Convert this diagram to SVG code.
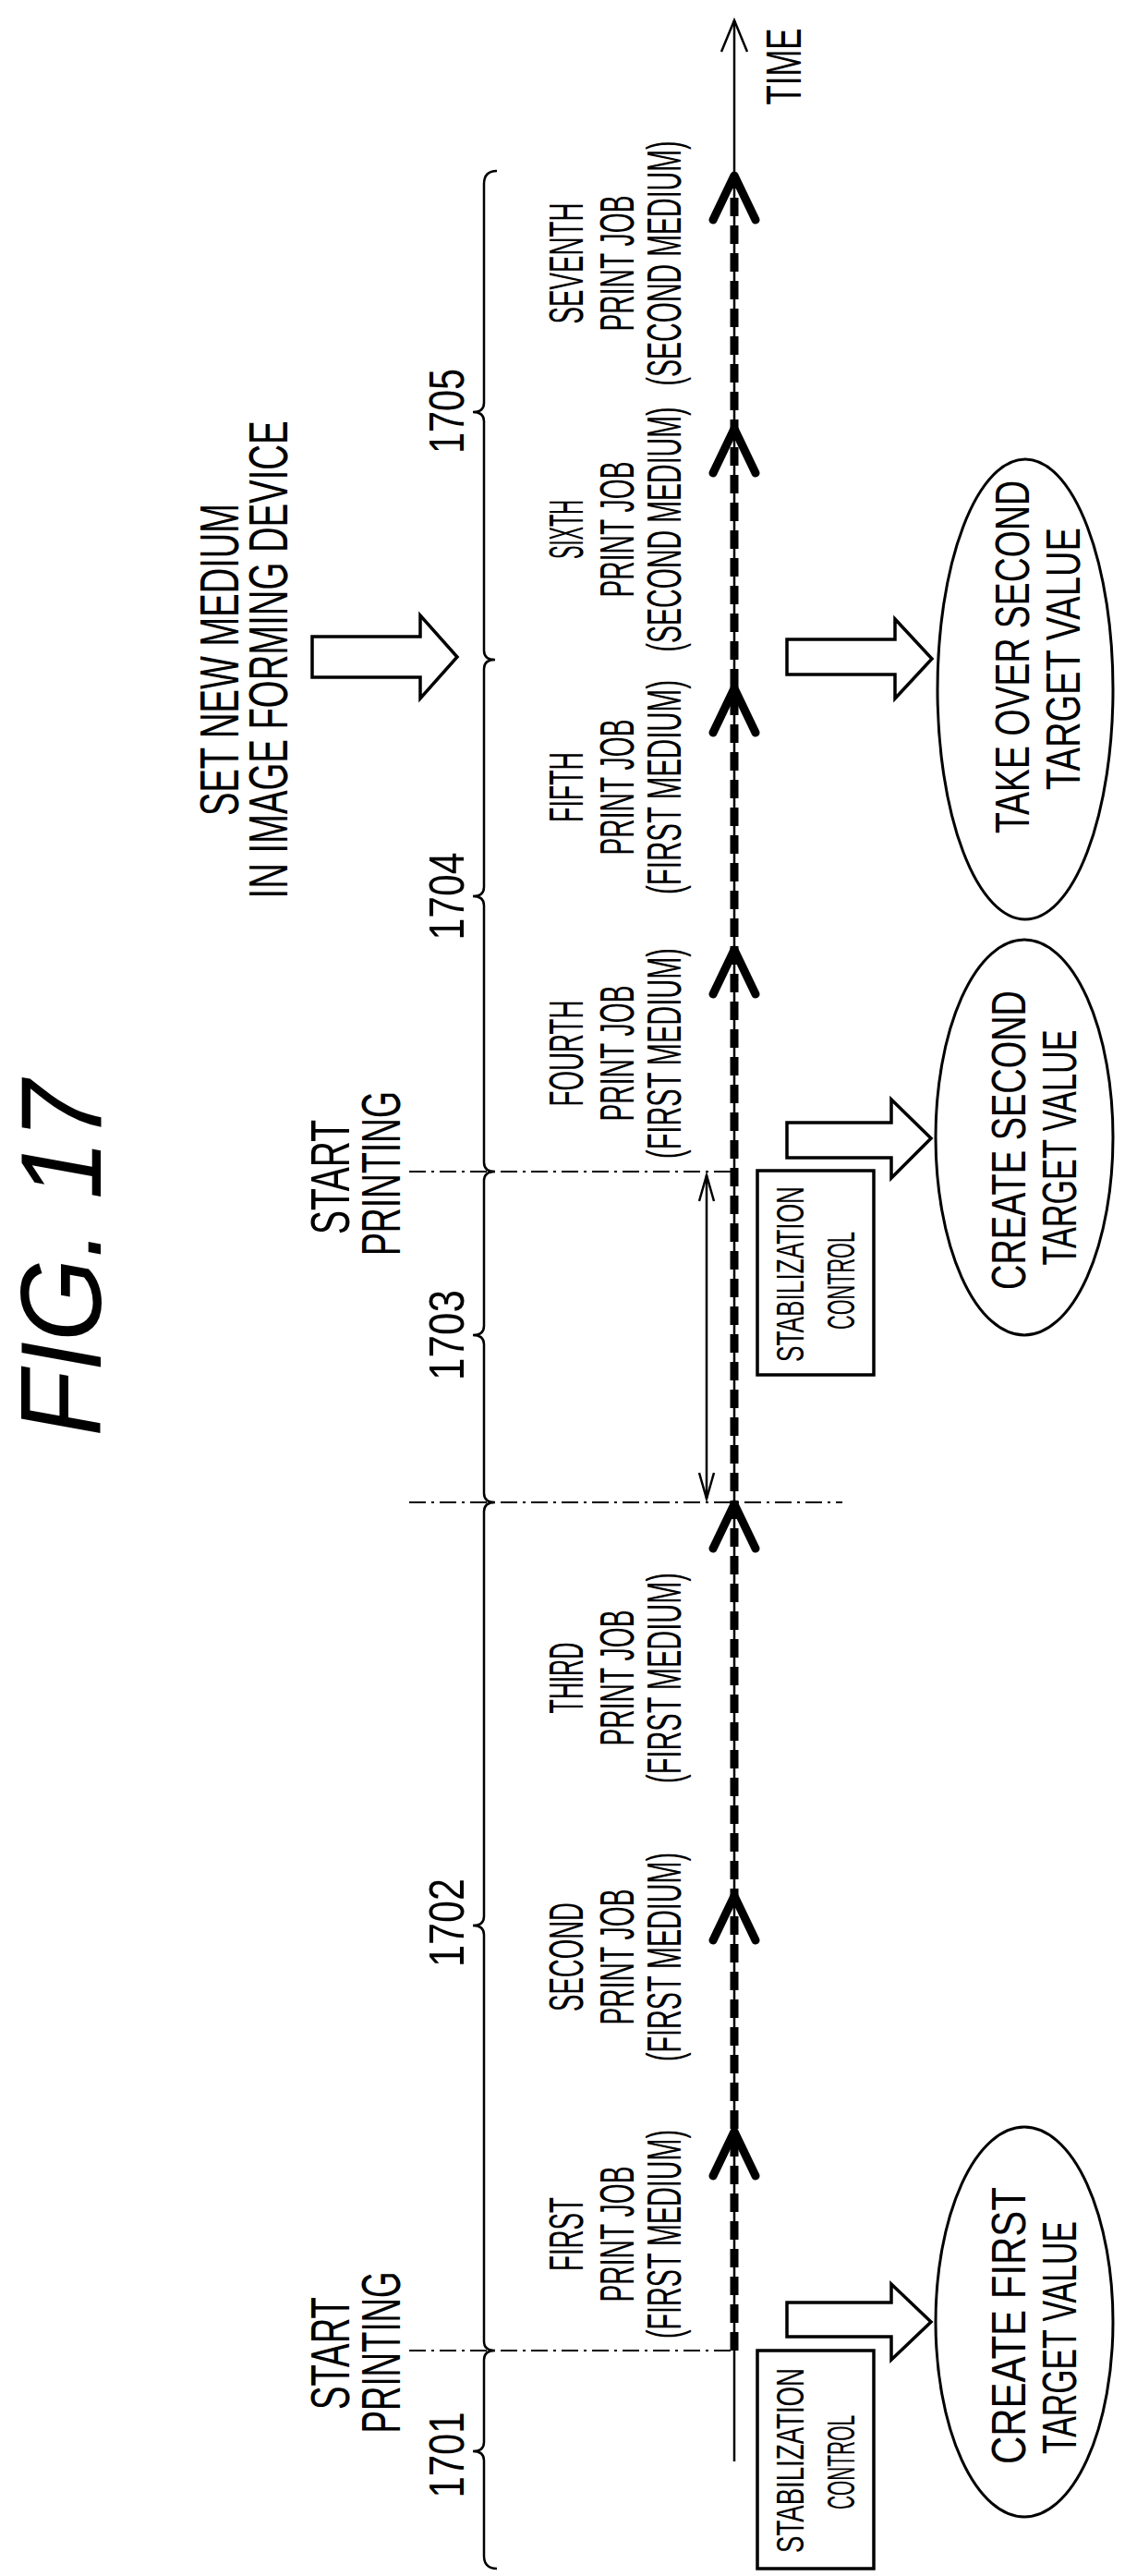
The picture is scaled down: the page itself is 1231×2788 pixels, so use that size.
<svg xmlns="http://www.w3.org/2000/svg" width="1231" height="2788" viewBox="0 0 1231 2788">
<style>
text{font-family:"Liberation Sans",Arial,sans-serif;fill:#000;text-anchor:middle}
.j{font-size:52px}.s{font-size:43px}.n{font-size:54px}.b{font-size:60px}
.thin{stroke:#000;stroke-width:2.5;fill:none}
.dd{stroke:#000;stroke-width:2;fill:none;stroke-dasharray:18 6 3 6}
.blk{fill:#fff;stroke:#000;stroke-width:3.5}
.chev{stroke:#000;stroke-width:9;fill:none;stroke-linecap:round;stroke-linejoin:round}
</style>
<rect width="1231" height="2788" fill="#fff"/>
<text transform="translate(64,1362) rotate(-90)" y="45" style="font-size:125px;font-style:italic" textLength="385" lengthAdjust="spacingAndGlyphs">FIG. 17</text>
<g id="connectors">
<line class="thin" x1="795" y1="2664" x2="795" y2="22"/>
<path class="thin" d="M781 56 L795 22 L809 56"/>
<line x1="795" y1="2544" x2="795" y2="190" stroke="#000" stroke-width="9" stroke-dasharray="20 10"/>
<path class="chev" d="M772 238 L795 190 L818 238 M772 512 L795 464 L818 512 M772 793 L795 745 L818 793 M772 1076 L795 1028 L818 1076 M772 1676 L795 1628 L818 1676 M772 2100 L795 2052 L818 2100 M772 2355 L795 2307 L818 2355"/>
<line class="dd" x1="443" y1="2544" x2="795" y2="2544"/>
<line class="dd" x1="443" y1="1626" x2="912" y2="1626"/>
<line class="dd" x1="443" y1="1268" x2="795" y2="1268"/>
<line class="thin" x1="765" y1="1272" x2="765" y2="1622"/>
<path class="thin" d="M757 1300 L765 1272 L773 1300 M757 1594 L765 1622 L773 1594"/>
<path class="thin" d="M538 185 Q524 185 524 199 L524 436 Q524 446 512 446 Q524 446 524 456 L524 704 Q524 714 536 714 Q524 714 524 724 L524 960 Q524 970 512 970 Q524 970 524 980 L524 1258 Q524 1268 536 1268 Q524 1268 524 1278 L524 1435 Q524 1445 512 1445 Q524 1445 524 1455 L524 1616 Q524 1626 536 1626 Q524 1626 524 1636 L524 2074 Q524 2084 512 2084 Q524 2084 524 2094 L524 2534 Q524 2544 536 2544 Q524 2544 524 2554 L524 2643 Q524 2653 512 2653 Q524 2653 524 2663 L524 2766 Q524 2780 538 2780"/>
</g>
<g id="time"><text class="n" transform="translate(848,72) rotate(-90)" y="19" textLength="83" lengthAdjust="spacingAndGlyphs">TIME</text></g>
<g id="labels">
<text class="n" transform="translate(483,445) rotate(-90)" y="19" textLength="92" lengthAdjust="spacingAndGlyphs">1705</text>
<text class="n" transform="translate(483,970) rotate(-90)" y="19" textLength="95" lengthAdjust="spacingAndGlyphs">1704</text>
<text class="n" transform="translate(483,1445) rotate(-90)" y="19" textLength="98" lengthAdjust="spacingAndGlyphs">1703</text>
<text class="n" transform="translate(483,2081) rotate(-90)" y="19" textLength="96" lengthAdjust="spacingAndGlyphs">1702</text>
<text class="n" transform="translate(483,2657) rotate(-90)" y="19" textLength="93" lengthAdjust="spacingAndGlyphs">1701</text>
</g>
<g id="setmedium">
<text class="b" transform="translate(237,714) rotate(-90)" y="21" textLength="338" lengthAdjust="spacingAndGlyphs">SET NEW MEDIUM</text>
<text class="b" transform="translate(290,714) rotate(-90)" y="21" textLength="517" lengthAdjust="spacingAndGlyphs">IN IMAGE FORMING DEVICE</text>
<path class="blk" d="M338 689 L455 689 L455 666 L495 711 L455 756 L455 733 L338 733 Z"/>
</g>
<g id="start2">
<text class="b" transform="translate(357,1274) rotate(-90)" y="21" textLength="124" lengthAdjust="spacingAndGlyphs">START</text>
<text class="b" transform="translate(412,1270) rotate(-90)" y="21" textLength="178" lengthAdjust="spacingAndGlyphs">PRINTING</text>
</g>
<g id="start1">
<text class="b" transform="translate(357,2547) rotate(-90)" y="21" textLength="122" lengthAdjust="spacingAndGlyphs">START</text>
<text class="b" transform="translate(412,2546) rotate(-90)" y="21" textLength="175" lengthAdjust="spacingAndGlyphs">PRINTING</text>
</g>
<g id="job7">
<text class="j" transform="translate(612,285) rotate(-90)" y="19" textLength="131" lengthAdjust="spacingAndGlyphs">SEVENTH</text>
<text class="j" transform="translate(667,285) rotate(-90)" y="19" textLength="147" lengthAdjust="spacingAndGlyphs">PRINT JOB</text>
<text class="j" transform="translate(718,285) rotate(-90)" y="19" textLength="265" lengthAdjust="spacingAndGlyphs">(SECOND MEDIUM)</text>
</g>
<g id="job6">
<text class="j" transform="translate(612,573) rotate(-90)" y="19" textLength="64" lengthAdjust="spacingAndGlyphs">SIXTH</text>
<text class="j" transform="translate(667,573) rotate(-90)" y="19" textLength="147" lengthAdjust="spacingAndGlyphs">PRINT JOB</text>
<text class="j" transform="translate(718,573) rotate(-90)" y="19" textLength="265" lengthAdjust="spacingAndGlyphs">(SECOND MEDIUM)</text>
</g>
<g id="job5">
<text class="j" transform="translate(612,852) rotate(-90)" y="19" textLength="76" lengthAdjust="spacingAndGlyphs">FIFTH</text>
<text class="j" transform="translate(667,852) rotate(-90)" y="19" textLength="147" lengthAdjust="spacingAndGlyphs">PRINT JOB</text>
<text class="j" transform="translate(718,852) rotate(-90)" y="19" textLength="232" lengthAdjust="spacingAndGlyphs">(FIRST MEDIUM)</text>
</g>
<g id="job4">
<text class="j" transform="translate(612,1140) rotate(-90)" y="19" textLength="115" lengthAdjust="spacingAndGlyphs">FOURTH</text>
<text class="j" transform="translate(667,1140) rotate(-90)" y="19" textLength="147" lengthAdjust="spacingAndGlyphs">PRINT JOB</text>
<text class="j" transform="translate(718,1140) rotate(-90)" y="19" textLength="228" lengthAdjust="spacingAndGlyphs">(FIRST MEDIUM)</text>
</g>
<g id="job3">
<text class="j" transform="translate(612,1816) rotate(-90)" y="19" textLength="77" lengthAdjust="spacingAndGlyphs">THIRD</text>
<text class="j" transform="translate(667,1816) rotate(-90)" y="19" textLength="147" lengthAdjust="spacingAndGlyphs">PRINT JOB</text>
<text class="j" transform="translate(718,1816) rotate(-90)" y="19" textLength="228" lengthAdjust="spacingAndGlyphs">(FIRST MEDIUM)</text>
</g>
<g id="job2">
<text class="j" transform="translate(612,2118) rotate(-90)" y="19" textLength="118" lengthAdjust="spacingAndGlyphs">SECOND</text>
<text class="j" transform="translate(667,2118) rotate(-90)" y="19" textLength="147" lengthAdjust="spacingAndGlyphs">PRINT JOB</text>
<text class="j" transform="translate(718,2118) rotate(-90)" y="19" textLength="226" lengthAdjust="spacingAndGlyphs">(FIRST MEDIUM)</text>
</g>
<g id="job1">
<text class="j" transform="translate(612,2418) rotate(-90)" y="19" textLength="80" lengthAdjust="spacingAndGlyphs">FIRST</text>
<text class="j" transform="translate(667,2418) rotate(-90)" y="19" textLength="147" lengthAdjust="spacingAndGlyphs">PRINT JOB</text>
<text class="j" transform="translate(718,2418) rotate(-90)" y="19" textLength="226" lengthAdjust="spacingAndGlyphs">(FIRST MEDIUM)</text>
</g>
<g id="stab2">
<rect x="820" y="1267" width="126" height="221" fill="#fff" stroke="#000" stroke-width="3.5"/>
<text class="s" transform="translate(855,1379) rotate(-90)" y="15" textLength="190" lengthAdjust="spacingAndGlyphs">STABILIZATION</text>
<text class="s" transform="translate(910,1386) rotate(-90)" y="15" textLength="106" lengthAdjust="spacingAndGlyphs">CONTROL</text>
</g>
<g id="stab1">
<rect x="820" y="2544" width="126" height="236" fill="#fff" stroke="#000" stroke-width="3.5"/>
<text class="s" transform="translate(855,2663) rotate(-90)" y="15" textLength="200" lengthAdjust="spacingAndGlyphs">STABILIZATION</text>
<text class="s" transform="translate(910,2665) rotate(-90)" y="15" textLength="102" lengthAdjust="spacingAndGlyphs">CONTROL</text>
</g>
<g id="arrows">
<path class="blk" d="M852 692 L969 692 L969 670 L1009 713 L969 756 L969 730 L852 730 Z"/>
<path class="blk" d="M852 1215 L965 1215 L965 1190 L1008 1232 L965 1275 L965 1253 L852 1253 Z"/>
<path class="blk" d="M852 2492 L965 2492 L965 2472 L1008 2513 L965 2554 L965 2529 L852 2529 Z"/>
</g>
<g id="takeover">
<ellipse cx="1110" cy="746" rx="95" ry="249" fill="#fff" stroke="#000" stroke-width="3"/>
<text class="j" transform="translate(1095,711) rotate(-90)" y="19" textLength="382" lengthAdjust="spacingAndGlyphs">TAKE OVER SECOND</text>
<text class="j" transform="translate(1150,713) rotate(-90)" y="19" textLength="284" lengthAdjust="spacingAndGlyphs">TARGET VALUE</text>
</g>
<g id="create2">
<ellipse cx="1109" cy="1231" rx="96" ry="214" fill="#fff" stroke="#000" stroke-width="3"/>
<text class="j" transform="translate(1091,1234) rotate(-90)" y="19" textLength="324" lengthAdjust="spacingAndGlyphs">CREATE SECOND</text>
<text class="j" transform="translate(1146,1242) rotate(-90)" y="19" textLength="255" lengthAdjust="spacingAndGlyphs">TARGET VALUE</text>
</g>
<g id="create1">
<ellipse cx="1109" cy="2513" rx="96" ry="211" fill="#fff" stroke="#000" stroke-width="3"/>
<text class="j" transform="translate(1091,2517) rotate(-90)" y="19" textLength="300" lengthAdjust="spacingAndGlyphs">CREATE FIRST</text>
<text class="j" transform="translate(1146,2530) rotate(-90)" y="19" textLength="252" lengthAdjust="spacingAndGlyphs">TARGET VALUE</text>
</g>
</svg>
